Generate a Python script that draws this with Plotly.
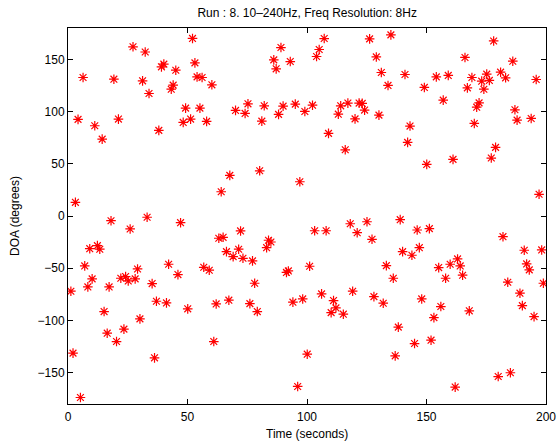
import plotly.graph_objects as go

time_s = [52.1, 27.2, 32.3, 53.1, 40.1, 39.1, 45.1, 6.3, 19.2, 31.2, 54.0, 56.1, 60.2, 44.0, 43.2, 33.9,
          49.2, 55.2, 4.2, 21.1, 51.3, 48.2, 58.0, 11.2, 38.0, 14.3,
          107.2, 126.2, 89.1, 105.1, 104.0, 129.0, 86.1, 93.0, 87.1, 131.1, 133.9, 70.1, 75.3, 74.1,
          82.1, 81.1, 88.1, 90.0, 95.1, 99.1, 102.3, 114.1, 113.1, 117.1, 121.8, 123.1, 124.1, 120.1,
          130.1, 109.0, 116.0,
          135.1, 178.1, 166.1, 186.1, 141.0, 154.1, 159.1, 169.0, 175.2, 173.1, 176.3, 181.0, 183.1,
          195.9, 149.1, 167.1, 174.0, 157.0, 172.0, 171.0, 187.0, 187.9, 193.8, 143.1, 170.0, 142.1, 178.9,
          67.7, 64.1, 3.1, 18.0, 33.1, 47.1, 26.0, 63.1, 64.9, 66.3, 9.1, 12.3, 13.3, 7.0, 29.1, 42.1,
          46.0, 56.8, 59.1, 10.1,
          80.2, 97.0, 72.2, 103.2, 108.0, 118.1, 125.1, 121.0, 127.2, 83.9, 84.9, 83.1, 71.4, 69.1, 73.2,
          77.2, 101.1, 133.2, 91.4, 92.2,
          150.1, 161.1, 177.1, 197.1, 139.0, 146.1, 151.2, 182.0, 140.0, 143.9, 147.0, 163.0, 159.9,
          164.1, 155.1, 190.9, 198.2, 191.9, 193.0, 165.1, 136.1, 158.0,
          1.2, 8.3, 17.2, 22.1, 24.1, 25.2, 28.1, 35.2, 37.0, 41.2, 15.1, 50.1, 62.0, 67.3, 30.1, 16.4,
          23.4, 20.3, 61.0, 2.1, 36.2, 5.2,
          78.1, 76.1, 79.2, 94.1, 98.2, 106.1, 111.1, 112.1, 110.1, 115.2, 119.1, 128.0, 131.9, 100.1, 96.1,
          184.0, 198.9, 189.1, 190.1, 195.0, 148.0, 156.0, 153.1, 167.9, 138.2, 145.0, 151.9, 136.9,
          162.0, 180.0, 185.1]

doa_deg = [170, 162, 157, 146.6, 145.4, 142.8, 139.6, 132.6, 131, 129.4, 133.2, 132.6, 125.6, 125.3, 121.4, 117.3,
           103.3, 103.3, 92.5, 92.8, 92.8, 89.6, 90.6, 86.4, 82.0, 73.6,
           169.9, 169.6, 161.3, 159.4, 152.7, 152.3, 149.5, 147.9, 140.9, 137.4, 125.0, 101.1, 107.4, 98.2,
           105.5, 90.8, 97.3, 105.2, 107.1, 100.1, 106.1, 105.5, 97.5, 108.1, 108.1, 107.8, 101.4, 93.0,
           96.6, 79.1, 63.4,
           173.4, 167.6, 151.8, 148.2, 135.5, 133.2, 134.6, 132.6, 135.8, 129.1, 129.8, 137.7, 132.3,
           130.7, 123.1, 122.7, 121.4, 110.9, 108.3, 104.2, 101.7, 91.8, 93.4, 86.1, 88.6, 70.5, 65.7,
           38.9, 23.2, 13.1, -4.5, -1.2, -6.4, -12.4, -21.3, -20.4, -34.1, -31.3, -28.4, -31.8, -47.8, -50.7, -46.2,
           -56.1, -49.1, -51.9, -60.2,
           43.3, 32.8, -14.3, -14.1, -14.1, -7.4, -5.5, -16.0, -22.3, -23.2, -24.9, -30.3, -31.8, -38.9, -40.5,
           -43.0, -48.1, -47.5, -54.0, -52.6,
           49.4, 54.2, 55.5, 20.8, -3.5, -13.4, -12.1, -19.8, -34.1, -37.6, -30.3, -41.1, -46.2,
           -47.8, -49.4, -32.8, -32.5, -45.9, -51.6, -56.7, -59.6, -59.6,
           -72.0, -67.9, -67.9, -59.6, -58.0, -62.2, -60.2, -64.7, -81.6, -83.2, -91.5, -88.9, -84.2, -80.6, -98.5, -112.2,
           -108.3, -120.2, -120.2, -131.3, -135.8, -173.8,
           -64.4, -83.9, -91.5, -82.5, -79.4, -74.6, -81.0, -88.0, -92.5, -94.0, -72.0, -77.2, -83.5, -132.3, -163.2,
           -63.4, -64.4, -73.9, -85.8, -96.3, -79.4, -86.7, -97.3, -90.8, -106.4, -122.1, -118.9, -133.9,
           -163.8, -153.7, -150.1]

x_ticks = [0, 50, 100, 150, 200]
y_ticks = [-150, -100, -50, 0, 50, 100, 150]

fig = go.Figure()
fig.add_trace(go.Scatter(
    x=time_s, y=doa_deg, mode="markers",
    marker=dict(symbol="asterisk-open", size=8, color="red",
                line=dict(color="red", width=1.2)),
    showlegend=False,
))

font = dict(family="Liberation Sans, Arial, sans-serif", size=12, color="black")

fig.update_layout(
    width=557, height=443,
    margin=dict(l=68, r=11, t=28, b=39),
    paper_bgcolor="white", plot_bgcolor="white",
    font=font,
    title=dict(text="Run : 8. 10–240Hz, Freq Resolution: 8Hz", x=0.5515, xanchor="center",
               y=1 - 13 / 443, yanchor="middle", font=dict(size=12)),
    annotations=[dict(text="Time (seconds)", xref="paper", yref="paper", x=0.5, y=-30 / 376,
                      xanchor="center", yanchor="middle", showarrow=False, font=dict(size=12))],
)
fig.update_xaxes(
    range=[0, 200], tickvals=x_ticks, ticks="inside", ticklen=5, tickcolor="black",
    showline=True, linecolor="black", linewidth=1, mirror="ticks", showgrid=False, zeroline=False,
    automargin=False, ticklabelstandoff=2,
)
fig.update_yaxes(
    range=[-180, 180], tickvals=y_ticks, ticks="inside", ticklen=5, tickcolor="black",
    showline=True, linecolor="black", linewidth=1, mirror="ticks", showgrid=False, zeroline=False,
    automargin=False,
    title=dict(text="DOA (degrees)", standoff=15, font=dict(size=12)),
)

fig.write_html("out.html")
